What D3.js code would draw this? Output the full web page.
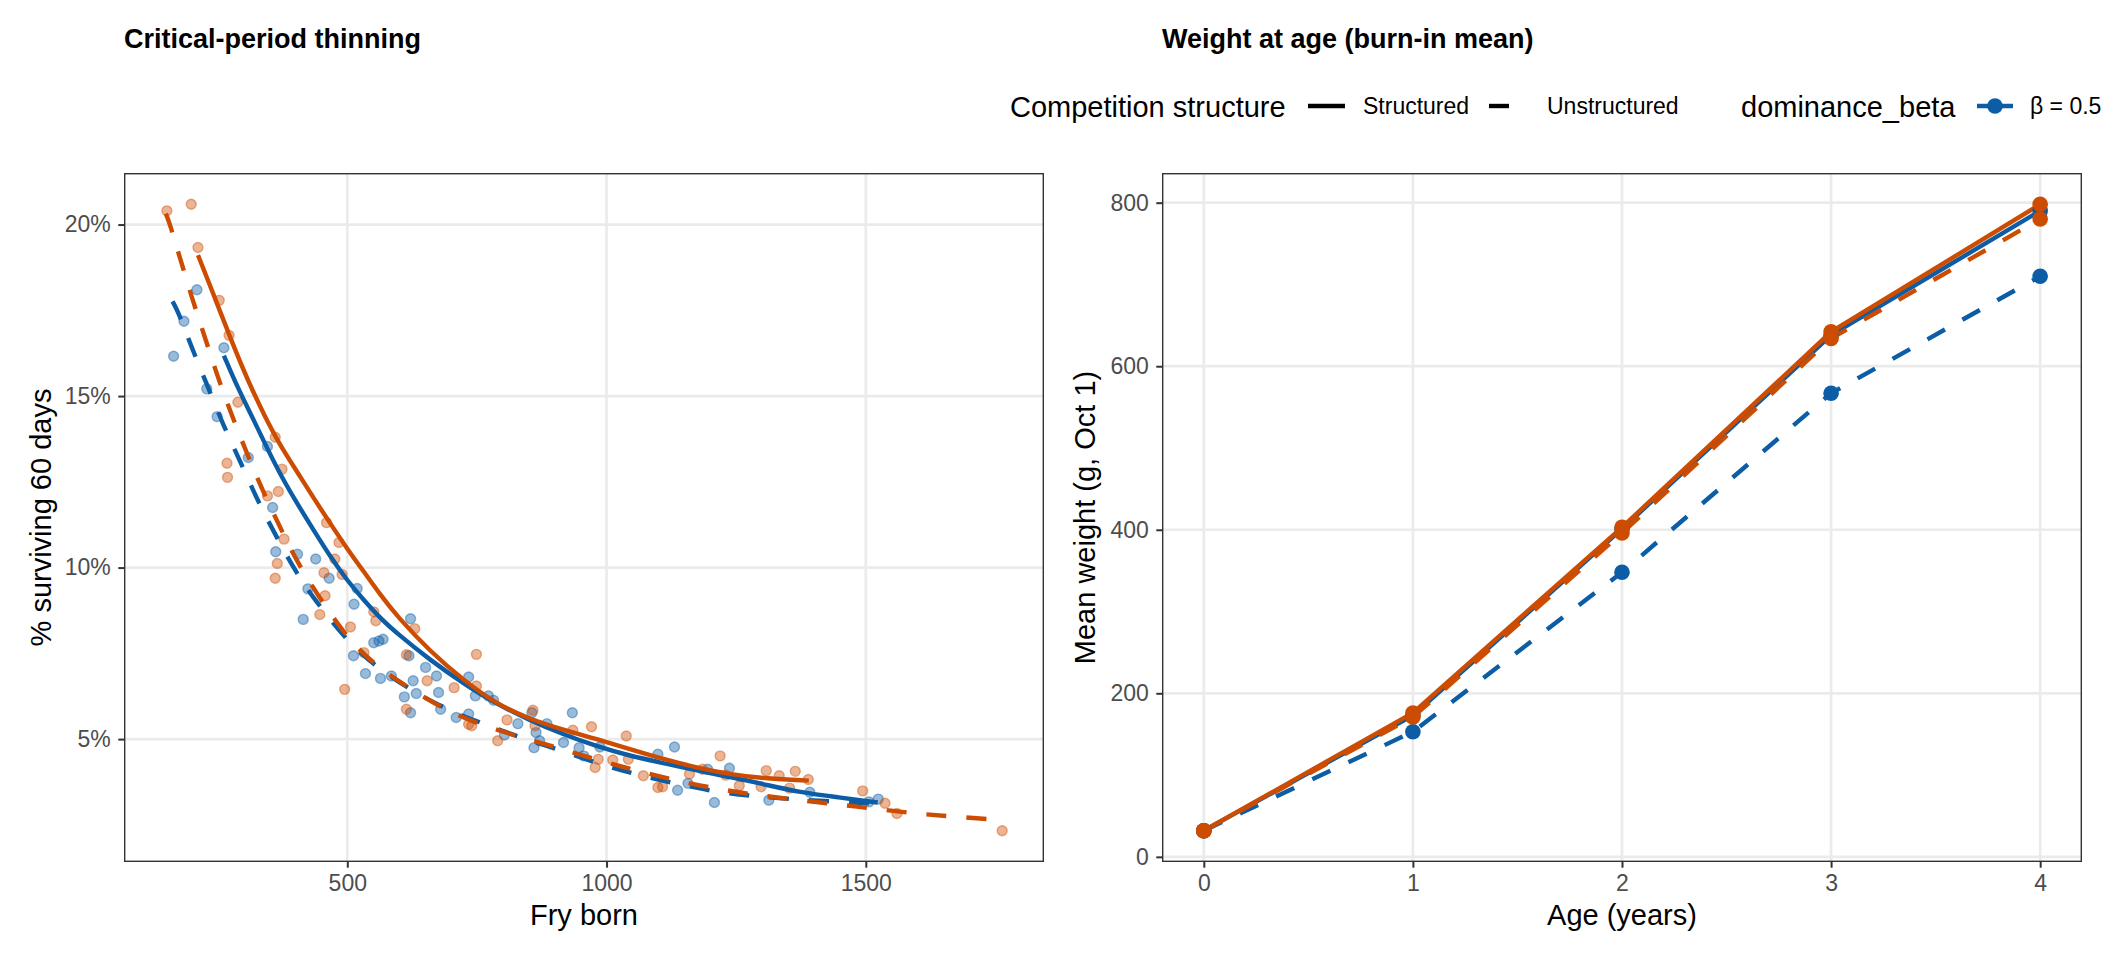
<!DOCTYPE html>
<html>
<head>
<meta charset="utf-8">
<script src="https://cdn.jsdelivr.net/npm/d3@7"></script>
<style>
  body { margin: 0; background: #ffffff; }
  svg text { font-family: "Liberation Sans", Arial, Helvetica, sans-serif; }
  .plotTitle { font-size: 27px; font-weight: bold; fill: #000; }
  .label { font-size: 29px; fill: #000; }
  .legendTitle { font-size: 29px; fill: #000; }
  .legend { font-size: 23px; fill: #000; }
</style>
</head>
<body>
<svg id="fig" width="2112" height="960"></svg>
<script>
// ---- data: left panel points (fry born, % surviving 60 days) ----
let fryBlue = [210, 185, 165, 262, 229, 249, 309, 346, 356, 362, 404, 439, 465, 424, 415,
  519, 513, 551, 561, 569, 622, 512, 535, 564, 585, 619, 627, 610, 633, 622, 651, 672, 676,
  680, 710, 734, 734, 747, 772, 782, 803, 829, 856, 864, 860, 871, 885, 917, 934, 947, 956,
  987, 1099, 1131, 1137, 1157, 1195, 1208, 1237, 1313, 1392, 1506, 1524];
let survBlue = [18.10, 17.18, 16.16, 16.41, 15.21, 14.40, 13.21, 13.53, 11.75, 10.46, 10.39, 10.25, 9.69, 9.38, 8.49,
  9.39, 8.93, 7.81, 7.86, 7.91, 8.51, 7.43, 6.91, 6.77, 6.84, 7.43, 6.70, 6.23, 6.33, 5.77, 7.09, 6.84, 6.36,
  5.87, 5.63, 6.81, 5.73, 6.26, 6.26, 6.13, 5.12, 5.45, 5.77, 5.19, 4.75, 4.95, 5.45, 4.90, 5.77, 4.75, 4.51,
  4.77, 4.56, 4.77, 3.51, 3.71, 4.12, 3.15, 4.15, 3.22, 3.45, 3.17, 3.25];

let fryOrange = [152, 199, 212, 253, 272, 289, 268, 269, 361, 374, 367, 346, 378, 365, 361, 460,
  484, 476, 455, 490, 457, 447, 506, 551, 555, 532, 495, 630, 614, 654, 614, 706, 749, 749, 734,
  740, 808, 790, 858, 862, 935, 971, 1038, 984, 978, 1012, 1042, 1071, 1099, 1108, 1160, 1185,
  1219, 1230, 1256, 1298, 1308, 1333, 1353, 1364, 1389, 1494, 1537, 1560, 1763];
let survOrange = [20.40, 20.59, 19.33, 17.79, 16.77, 14.82, 13.04, 12.63, 13.80, 12.87, 12.22, 12.09, 10.83, 10.12, 9.69, 11.31,
  10.73, 10.25, 9.85, 9.80, 9.18, 8.63, 8.27, 8.71, 8.45, 7.52, 6.45, 8.22, 7.46, 6.70, 5.87, 6.50, 7.47, 6.55, 5.43,
  5.39, 5.56, 4.95, 5.84, 5.39, 5.26, 5.36, 5.09, 4.41, 4.17, 4.39, 4.41, 3.93, 3.59, 3.61, 3.98, 4.12,
  4.51, 3.95, 3.64, 3.61, 4.08, 3.93, 3.57, 4.06, 3.82, 3.49, 3.13, 2.83, 2.33];

// ---- data: left panel fitted curves ----
let curveBlueStructFry = [262, 288, 320, 346, 372, 404, 436, 468, 500, 532, 564, 596, 660, 724, 788, 852, 916, 981, 1045, 1110, 1200, 1244, 1307, 1372, 1448, 1523];
let curveBlueStructSurv = [16.18, 15.26, 14.29, 13.46, 12.68, 11.85, 11.07, 10.30, 9.62, 9.05, 8.52, 8.08, 7.30, 6.62, 6.02, 5.55, 5.14, 4.79, 4.51, 4.30, 4.00, 3.88, 3.67, 3.45, 3.30, 3.15];

let curveBlueUnstructFry = [163, 174, 202, 232, 261, 295, 327, 364, 401, 434, 495, 551, 617, 686, 758, 833, 909, 986, 1059, 1137, 1215, 1294, 1370, 1518];
let curveBlueUnstructSurv = [17.76, 17.46, 16.33, 15.24, 14.14, 13.05, 11.95, 10.88, 9.86, 9.13, 7.93, 7.16, 6.48, 5.90, 5.47, 5.05, 4.69, 4.27, 3.96, 3.69, 3.45, 3.32, 3.23, 3.12];

let curveOrangeStructFry = [212, 244, 276, 308, 340, 372, 404, 436, 468, 500, 532, 564, 596, 660, 724, 788, 852, 917, 981, 1045, 1109, 1179, 1244, 1308, 1390];
let curveOrangeStructSurv = [19.11, 17.89, 16.63, 15.46, 14.43, 13.52, 12.78, 12.00, 11.27, 10.54, 9.88, 9.20, 8.58, 7.55, 6.72, 6.02, 5.58, 5.27, 5.00, 4.71, 4.42, 4.15, 3.96, 3.85, 3.79];

let curveOrangeUnstructFry = [150, 157, 179, 202, 227, 251, 279, 308, 339, 374, 407, 494, 550, 617, 683, 753, 832, 907, 983, 1058, 1134, 1212, 1288, 1366, 1445, 1522, 1601, 1679, 1763];
let curveOrangeUnstructSurv = [20.32, 20.06, 18.94, 17.78, 16.64, 15.51, 14.37, 13.27, 12.16, 11.07, 10.02, 8.03, 7.20, 6.50, 5.90, 5.43, 5.07, 4.74, 4.39, 4.08, 3.79, 3.55, 3.37, 3.23, 3.10, 2.96, 2.82, 2.73, 2.64];

// ---- data: right panel, weight at age ----
let ages = [0, 1, 2, 3, 4];
let weightBlueStruct = [32, 173, 401, 638, 790];
let weightBlueUnstruct = [32, 153, 348, 567, 710];
let weightOrangeStruct = [32, 176, 403, 642, 798];
let weightOrangeUnstruct = [32, 171, 396, 634, 780];

// ---- tick / legend text ----
let survTicks = [5, 10, 15, 20];
let fryTicks = [500, 1000, 1500];
let weightTicks = [0, 200, 400, 600, 800];
let structureLabels = ["Structured", "Unstructured"];
let betaLabels = ["β = 0.5"];

let blue = "#0C5DA5";
let orange = "#CC4C02";
let dashes = "20,20";

let svg = d3.select("#fig");

function pad_domain(ext, f = 0.05) {
  let r = ext[1] - ext[0];
  return [ext[0] - f * r, ext[1] + f * r];
}

function panel_frame(box, xScale, yScale, xTicks, yTicks, xFormat, yFormat) {
  // grid
  let grid = svg.append("g");
  grid.selectAll(".gx").data(xTicks).enter().append("line")
    .attr("x1", d => xScale(d)).attr("x2", d => xScale(d))
    .attr("y1", box.y0).attr("y2", box.y1)
    .attr("stroke", "#EBEBEB").attr("stroke-width", 2.7);
  grid.selectAll(".gy").data(yTicks).enter().append("line")
    .attr("x1", box.x0).attr("x2", box.x1)
    .attr("y1", d => yScale(d)).attr("y2", d => yScale(d))
    .attr("stroke", "#EBEBEB").attr("stroke-width", 2.7);

  // axes
  let xAxis = d3.axisBottom(xScale).tickValues(xTicks).tickFormat(xFormat)
    .tickSize(5.7).tickPadding(6.5);
  let yAxis = d3.axisLeft(yScale).tickValues(yTicks).tickFormat(yFormat)
    .tickSize(5.7).tickPadding(7.5);
  [svg.append("g").attr("transform", `translate(0,${box.y1})`).call(xAxis),
   svg.append("g").attr("transform", `translate(${box.x0},0)`).call(yAxis)]
    .forEach(function (g) {
      g.select(".domain").remove();
      g.selectAll(".tick line").attr("stroke", "#333333").attr("stroke-width", 2);
      g.selectAll(".tick text")
        .attr("fill", "#4D4D4D")
        .style("font-size", "23px")
        .style("font-family", '"Liberation Sans", Arial, Helvetica, sans-serif');
    });
}

function panel_border(box) {
  svg.append("rect")
    .attr("x", box.x0 + 0.7).attr("y", box.y0 + 0.7)
    .attr("width", box.x1 - box.x0 - 1.4).attr("height", box.y1 - box.y0 - 1.4)
    .attr("fill", "none").attr("stroke", "#333333").attr("stroke-width", 1.4);
}

// ================= LEFT PANEL =================
let leftBox = { x0: 124, x1: 1044, y0: 173, y1: 862 };
let allFry = fryBlue.concat(fryOrange, curveOrangeUnstructFry, curveBlueUnstructFry);
let allSurv = survBlue.concat(survOrange, curveOrangeUnstructSurv);

let xFry = d3.scaleLinear().domain(pad_domain(d3.extent(allFry))).range([leftBox.x0, leftBox.x1]);
let ySurv = d3.scaleLinear().domain(pad_domain(d3.extent(allSurv))).range([leftBox.y1, leftBox.y0]);

panel_frame(leftBox, xFry, ySurv, fryTicks, survTicks, d3.format("d"), d => d + "%");

let pointsG = svg.append("g");
[[fryBlue, survBlue, blue], [fryOrange, survOrange, orange]].forEach(function (grp) {
  pointsG.selectAll(null).data(grp[0]).enter().append("circle")
    .attr("cx", d => xFry(d))
    .attr("cy", (d, i) => ySurv(grp[1][i]))
    .attr("r", 5)
    .attr("fill", grp[2]).attr("fill-opacity", 0.42)
    .attr("stroke", grp[2]).attr("stroke-opacity", 0.42).attr("stroke-width", 1.4);
});

// smoothed fits through the read-off points
let fitLine = d3.line().x(d => xFry(d[0])).y(d => ySurv(d[1])).curve(d3.curveBasis);
[
  [curveBlueStructFry, curveBlueStructSurv, blue, null],
  [curveBlueUnstructFry, curveBlueUnstructSurv, blue, dashes],
  [curveOrangeStructFry, curveOrangeStructSurv, orange, null],
  [curveOrangeUnstructFry, curveOrangeUnstructSurv, orange, dashes]
].forEach(function (c) {
  svg.append("path")
    .datum(c[0].map((d, i) => [d, c[1][i]]))
    .attr("d", fitLine)
    .attr("fill", "none")
    .attr("stroke", c[2])
    .attr("stroke-width", 4.4)
    .attr("stroke-dasharray", c[3]);
});
panel_border(leftBox);

// titles & labels
svg.append("text").attr("class", "plotTitle").attr("x", 124).attr("y", 48).text("Critical-period thinning");
svg.append("text").attr("class", "label").attr("text-anchor", "middle")
  .attr("x", (leftBox.x0 + leftBox.x1) / 2).attr("y", 925).text("Fry born");
svg.append("text").attr("class", "label").attr("text-anchor", "middle")
  .attr("transform", `translate(${51},${(leftBox.y0 + leftBox.y1) / 2}) rotate(270)`)
  .text("% surviving 60 days");

// ================= RIGHT PANEL =================
let rightBox = { x0: 1162, x1: 2082, y0: 173, y1: 862 };
let allWeight = weightBlueStruct.concat(weightBlueUnstruct, weightOrangeStruct, weightOrangeUnstruct);

let xAge = d3.scaleLinear().domain(pad_domain(d3.extent(ages))).range([rightBox.x0, rightBox.x1]);
let yWeight = d3.scaleLinear().domain(pad_domain(d3.extent(allWeight))).range([rightBox.y1, rightBox.y0]);

panel_frame(rightBox, xAge, yWeight, ages, weightTicks, d3.format("d"), d3.format("d"));

let weightSeries = [
  [weightBlueStruct, blue, null],
  [weightBlueUnstruct, blue, dashes],
  [weightOrangeStruct, orange, null],
  [weightOrangeUnstruct, orange, dashes]
];
let ageLine = d3.line().x((d, i) => xAge(ages[i])).y(d => yWeight(d));
weightSeries.forEach(function (s) {
  svg.append("path")
    .datum(s[0])
    .attr("d", ageLine)
    .attr("fill", "none")
    .attr("stroke", s[1])
    .attr("stroke-width", 4.4)
    .attr("stroke-dasharray", s[2]);
});
weightSeries.forEach(function (s) {
  svg.append("g").selectAll("circle").data(s[0]).enter().append("circle")
    .attr("cx", (d, i) => xAge(ages[i]))
    .attr("cy", d => yWeight(d))
    .attr("r", 7.8)
    .attr("fill", s[1]);
});
panel_border(rightBox);

svg.append("text").attr("class", "plotTitle").attr("x", 1162).attr("y", 48).text("Weight at age (burn-in mean)");
svg.append("text").attr("class", "label").attr("text-anchor", "middle")
  .attr("x", (rightBox.x0 + rightBox.x1) / 2).attr("y", 925).text("Age (years)");
svg.append("text").attr("class", "label").attr("text-anchor", "middle")
  .attr("transform", `translate(${1095},${(rightBox.y0 + rightBox.y1) / 2}) rotate(270)`)
  .text("Mean weight (g, Oct 1)");

// ================= LEGEND =================
let legendY = 106;
let lgnd = svg.append("g");
lgnd.append("text").attr("class", "legendTitle").attr("x", 1010).attr("y", legendY + 10.5)
  .text("Competition structure");
let structKeyX = [1308, 1489];
let structLabelX = [1363, 1547];
structureLabels.forEach(function (d, i) {
  lgnd.append("line")
    .attr("x1", structKeyX[i]).attr("x2", structKeyX[i] + 37)
    .attr("y1", legendY).attr("y2", legendY)
    .attr("stroke", "#000").attr("stroke-width", 4.4)
    .attr("stroke-dasharray", i === 0 ? null : dashes);
  lgnd.append("text").attr("class", "legend")
    .attr("x", structLabelX[i]).attr("y", legendY + 8.3).text(d);
});
lgnd.append("text").attr("class", "legendTitle").attr("x", 1741).attr("y", legendY + 10.5)
  .text("dominance_beta");
betaLabels.forEach(function (d, i) {
  lgnd.append("line")
    .attr("x1", 1977).attr("x2", 2013)
    .attr("y1", legendY).attr("y2", legendY)
    .attr("stroke", blue).attr("stroke-width", 4.4);
  lgnd.append("circle").attr("cx", 1995).attr("cy", legendY).attr("r", 7.8).attr("fill", blue);
  lgnd.append("text").attr("class", "legend")
    .attr("x", 2030).attr("y", legendY + 8.3).text(d);
});
</script>
</body>
</html>
